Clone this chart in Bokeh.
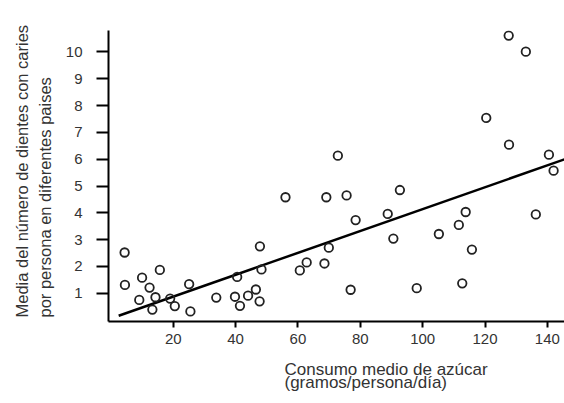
from bokeh.plotting import figure
from bokeh.models import Range1d, FixedTicker, Title
from bokeh.embed import file_html
from bokeh.resources import INLINE

# Data
azucar = [4.4, 4.5, 10.0, 15.7, 12.4, 9.1, 14.3, 13.3, 19.0, 20.5, 25.1, 25.5,
          33.8, 39.8, 40.5, 41.4, 44.0, 46.5, 47.7, 47.8, 48.3, 56.0, 60.6, 62.8,
          68.5, 69.1, 69.9, 75.6, 76.9, 72.8, 78.5, 88.8, 90.6, 92.7, 98.1, 105.2,
          111.6, 112.7, 113.8, 115.8, 120.4, 127.7, 127.6, 133.1, 136.3, 140.5, 142.0]
caries = [2.52, 1.31, 1.58, 1.87, 1.21, 0.75, 0.85, 0.39, 0.80, 0.52, 1.34, 0.32,
          0.84, 0.87, 1.61, 0.53, 0.91, 1.14, 0.70, 2.75, 1.89, 4.58, 1.85, 2.15,
          2.11, 4.58, 2.70, 4.65, 1.13, 6.13, 3.73, 3.96, 3.04, 4.85, 1.19, 3.21,
          3.55, 1.37, 4.03, 2.63, 7.54, 6.54, 10.61, 10.01, 3.94, 6.17, 5.57]

# Fitted line
fit_intercept = 0.058
fit_slope = 0.0408
fit_x = [2.5, 150.0]
fit_y = [fit_intercept + fit_slope * v for v in fit_x]

x_ticks = [20, 40, 60, 80, 100, 120, 140]
y_ticks = [1, 2, 3, 4, 5, 6, 7, 8, 9, 10]

x_title = ["Consumo medio de azúcar", "(gramos/persona/día)"]
y_title = ["Media del número de dientes con caries", "por persona en diferentes paises"]

FONT = "Liberation Sans"
TXT = "#333333"

p = figure(width=564, height=403,
           x_range=Range1d(-0.77, 145.5), y_range=Range1d(-0.054, 10.8),
           output_backend="svg", toolbar_location=None,
           min_border_left=108, min_border_right=0,
           min_border_top=30, min_border_bottom=82)

p.outline_line_color = None
p.xgrid.visible = False
p.ygrid.visible = False
p.background_fill_color = "white"
p.border_fill_color = "white"

for ax in (p.xaxis[0], p.yaxis[0]):
    ax.axis_line_width = 2
    ax.axis_line_color = "black"
    ax.major_tick_line_width = 2
    ax.major_tick_line_color = "black"
    ax.major_tick_in = 0
    ax.minor_tick_line_color = None
    ax.major_label_text_font = FONT
    ax.major_label_text_font_size = "15px"
    ax.major_label_text_color = TXT

p.xaxis.ticker = FixedTicker(ticks=x_ticks)
p.yaxis.ticker = FixedTicker(ticks=y_ticks)
p.xaxis.major_tick_out = 6
p.yaxis.major_tick_out = 12
p.xaxis.major_label_standoff = 6
p.yaxis.major_label_standoff = 14

p.line(fit_x, fit_y, line_color="black", line_width=2.5)
p.scatter(azucar, caries, marker="circle", size=8.5, fill_color=None,
          line_color="#222222", line_width=1.8)

# x-axis title: one two-line title, shifted right
p.add_layout(Title(text="\n".join(x_title), align="left", offset=176,
                   text_font=FONT, text_font_size="17px", text_font_style="normal",
                   text_color=TXT, text_line_height=0.72, standoff=22), "below")

# y-axis title: one two-line title
p.add_layout(Title(text="\n".join(y_title), align="left", offset=4,
                   text_font=FONT, text_font_size="16.5px", text_font_style="normal",
                   text_color=TXT, text_line_height=1.3, standoff=17), "left")

open("out.html", "w").write(file_html(p, INLINE))
